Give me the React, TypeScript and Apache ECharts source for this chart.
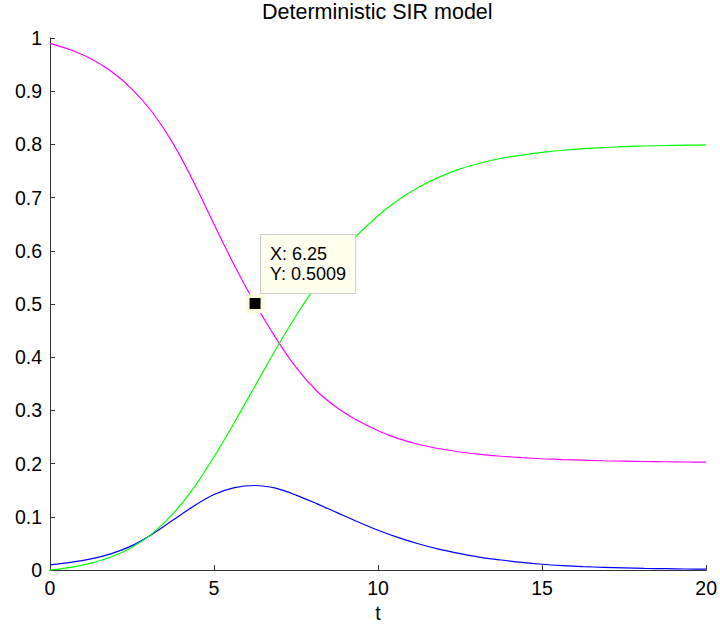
import React, { useEffect, useRef } from "react";
import * as echarts from "echarts";

const T = [0, 0.625, 1.25, 1.875, 2.5, 3.125, 3.75, 4.375, 5, 5.625, 6.25, 6.875, 7.5, 8.125, 8.75, 9.375, 10, 10.625, 11.25, 11.875, 12.5, 13.125, 13.75, 14.375, 15, 15.625, 16.25, 16.875, 17.5, 18.125, 18.75, 19.375, 20];
const S = [0.99, 0.978, 0.961, 0.937, 0.904, 0.86, 0.802, 0.73, 0.65, 0.572, 0.5009, 0.437, 0.381, 0.337, 0.305, 0.281, 0.262, 0.247, 0.236, 0.228, 0.222, 0.2175, 0.214, 0.2113, 0.2093, 0.2077, 0.2065, 0.2055, 0.2047, 0.2041, 0.2036, 0.2032, 0.2029];
const I = [0.01, 0.0145, 0.021, 0.031, 0.046, 0.068, 0.094, 0.12, 0.142, 0.155, 0.159, 0.154, 0.141, 0.125, 0.108, 0.091, 0.075, 0.061, 0.049, 0.039, 0.031, 0.024, 0.019, 0.0145, 0.011, 0.0085, 0.0066, 0.0052, 0.0041, 0.0032, 0.0026, 0.0021, 0.0017];
const R = [0.0, 0.005, 0.013, 0.025, 0.043, 0.069, 0.106, 0.154, 0.213, 0.278, 0.346, 0.414, 0.478, 0.536, 0.587, 0.63, 0.666, 0.696, 0.72, 0.739, 0.754, 0.765, 0.774, 0.78, 0.785, 0.789, 0.792, 0.794, 0.796, 0.797, 0.798, 0.7985, 0.799];
const TIP = [6.25, 0.5009];
const TITLE = "Deterministic SIR model";
const X_NAME = "t";

const FONT = "'Liberation Sans', Arial, Helvetica, sans-serif";

export default function App() {
  const ref = useRef<HTMLDivElement>(null);
  useEffect(() => {
    if (!ref.current) return;
    const chart = echarts.init(ref.current, null, { renderer: "svg" });
    const line = (vals: number[], color: string) => ({
      type: "line",
      data: T.map((t, i) => [t, vals[i]]),
      showSymbol: false,
      smooth: 0.3,
      lineStyle: { color, width: 1.2 },
      itemStyle: { color },
      silent: true,
    });
    chart.setOption({
      animation: false,
      backgroundColor: "#ffffff",
      textStyle: { fontFamily: FONT },
      title: {
        text: TITLE,
        left: 262,
        top: 1,
        padding: 0,
        textStyle: { fontSize: 21.5, fontWeight: "normal", color: "#000", fontFamily: FONT },
      },
      grid: { left: 50, right: 13, top: 38, bottom: 57, containLabel: false },
      xAxis: {
        type: "value",
        min: 0,
        max: 20,
        interval: 5,
        name: X_NAME,
        nameLocation: "middle",
        nameGap: 24,
        nameTextStyle: { fontSize: 19.5, color: "#000", fontFamily: FONT },
        axisLine: { show: true, lineStyle: { color: "#333", width: 1 } },
        axisTick: { show: true, inside: true, length: 5, lineStyle: { color: "#333" } },
        axisLabel: { fontSize: 19.5, color: "#000", margin: 8, fontFamily: FONT },
        splitLine: { show: false },
      },
      yAxis: {
        type: "value",
        min: 0,
        max: 1,
        interval: 0.1,
        axisLine: { show: true, lineStyle: { color: "#333", width: 1 } },
        axisTick: { show: true, inside: true, length: 5, lineStyle: { color: "#333" } },
        axisLabel: {
          fontSize: 19.5,
          color: "#000",
          margin: 8,
          fontFamily: FONT,
          formatter: (v: number) => String(Math.round(v * 10) / 10),
        },
        splitLine: { show: false },
      },
      series: [
        line(S, "#ff00ff"),
        line(I, "#0000ff"),
        line(R, "#00ff00"),
        {
          type: "scatter",
          data: [TIP],
          symbol: "rect",
          symbolSize: 15,
          z: 10,
          silent: true,
          itemStyle: { color: "#000000", borderColor: "#fbfbdc", borderWidth: 4, opacity: 1 },
          label: {
            show: true,
            position: [15.5, -59],
            align: "left",
            verticalAlign: "top",
            formatter: (p: any) => `X: ${p.value[0]}\nY: ${p.value[1]}`,
            fontSize: 18,
            lineHeight: 20,
            color: "#000",
            fontFamily: FONT,
            backgroundColor: "#ffffee",
            borderColor: "#cccccc",
            borderWidth: 1,
            padding: [9, 9, 9, 9],
          },
        },
      ],
    });
    return () => chart.dispose();
  }, []);
  return (
    <div
      ref={ref}
      style={{ position: "fixed", left: 0, top: 0, width: 720, height: 628, background: "#fff" }}
    />
  );
}
